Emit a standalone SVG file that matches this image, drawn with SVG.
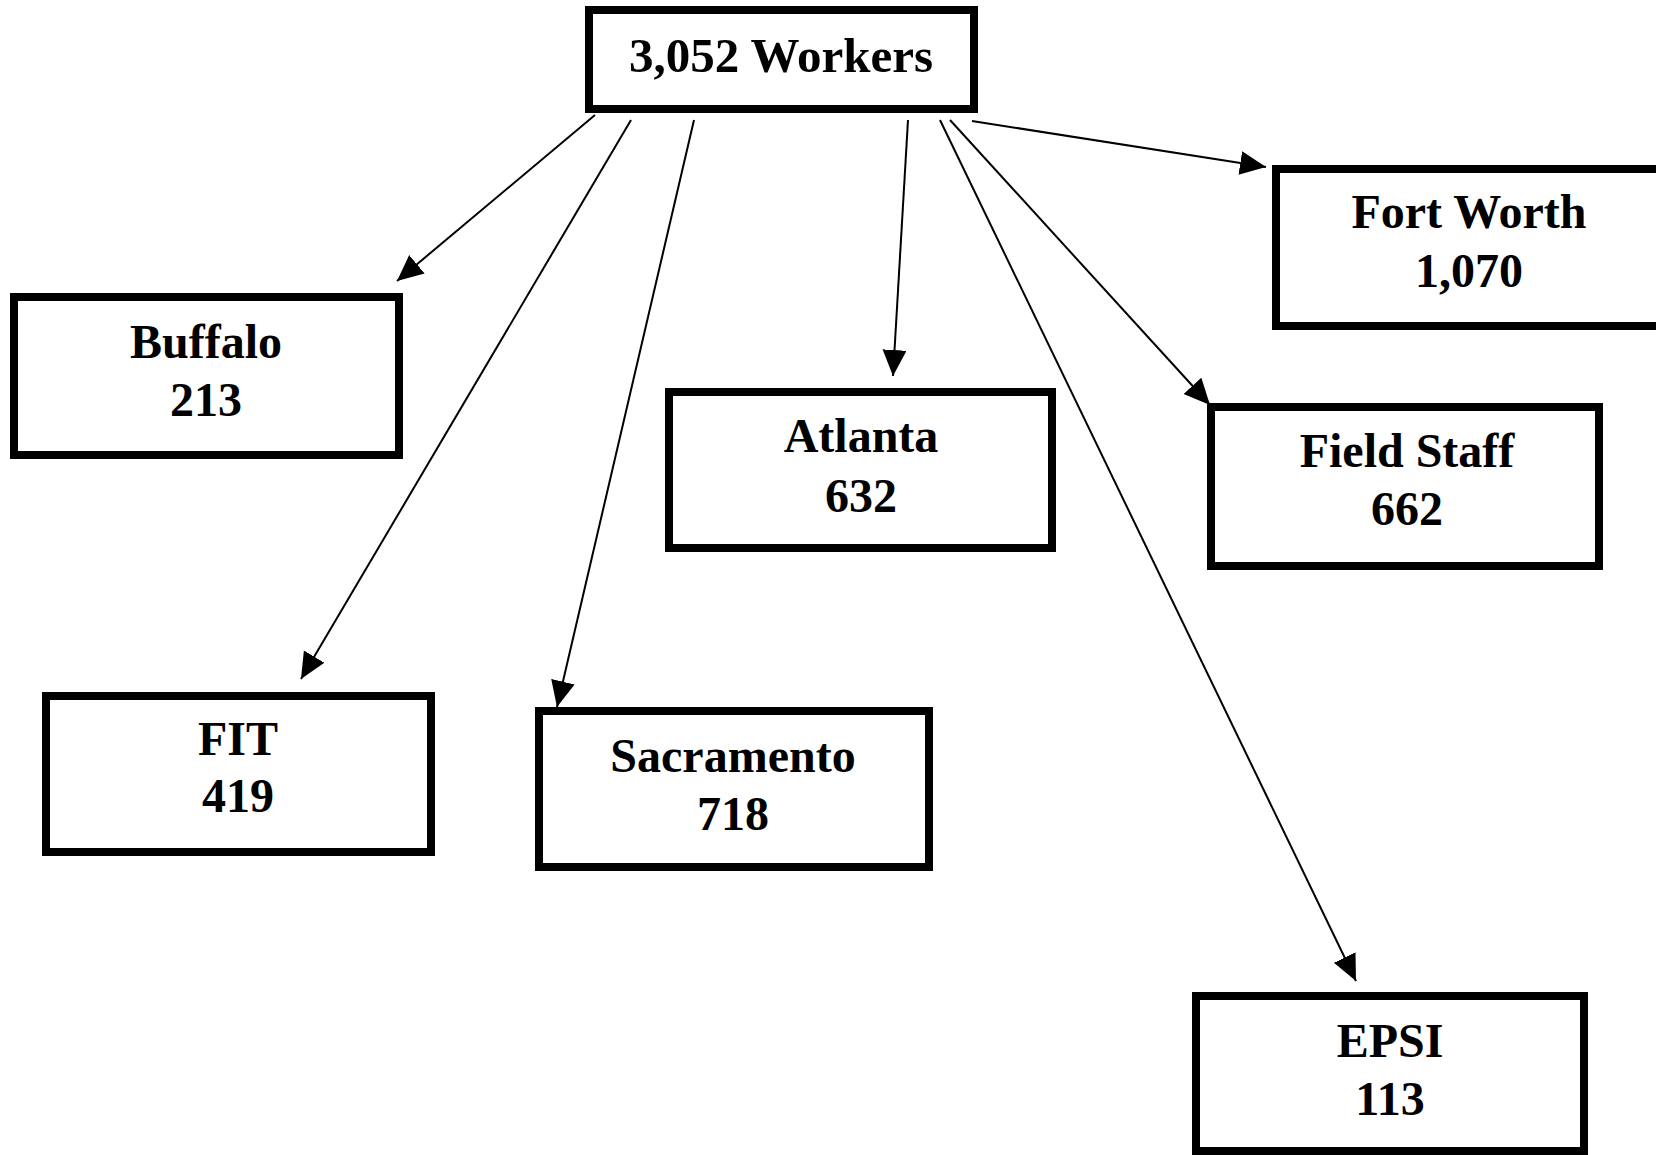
<svg xmlns="http://www.w3.org/2000/svg" width="1656" height="1155" viewBox="0 0 1656 1155">
<style>
.box{fill:#fff;stroke:#000;stroke-width:8}
.t{font-family:"Liberation Serif","Times New Roman",serif;font-weight:bold;font-size:48px;fill:#000;text-anchor:middle}
.c{stroke:#000;stroke-width:2;fill:none;marker-end:url(#ah)}
</style>
<defs>
<marker id="ah" markerUnits="userSpaceOnUse" markerWidth="28" markerHeight="26" refX="26" refY="12" orient="auto" viewBox="0 0 28 26">
<path d="M0,0 L26,12 L0,24 z" fill="#000"/>
</marker>
</defs>
<rect width="1656" height="1155" fill="#fff"/>
<g id="connectors">
<line class="c" x1="595" y1="115" x2="397" y2="281"/>
<line class="c" x1="631" y1="120" x2="301" y2="679"/>
<line class="c" x1="694" y1="120" x2="557" y2="707"/>
<line class="c" x1="908" y1="120" x2="893" y2="376"/>
<line class="c" x1="940" y1="120" x2="1356" y2="981"/>
<line class="c" x1="950" y1="120" x2="1210" y2="405"/>
<line class="c" x1="972" y1="121" x2="1266" y2="167"/>
</g>
<g id="root">
<rect class="box" x="589" y="10" width="385" height="99"/>
<text class="t" x="781" y="72" style="font-size:49px">3,052 Workers</text>
</g>
<g id="fortworth">
<rect class="box" x="1276" y="169" width="400" height="157"/>
<text class="t" x="1469" y="228">Fort Worth</text>
<text class="t" x="1469" y="287">1,070</text>
</g>
<g id="buffalo">
<rect class="box" x="14" y="297" width="385" height="158"/>
<text class="t" x="206" y="358">Buffalo</text>
<text class="t" x="206" y="416">213</text>
</g>
<g id="atlanta">
<rect class="box" x="669" y="392" width="383" height="156"/>
<text class="t" x="861" y="452">Atlanta</text>
<text class="t" x="861" y="512">632</text>
</g>
<g id="fieldstaff">
<rect class="box" x="1211" y="407" width="388" height="159"/>
<text class="t" x="1407" y="467">Field Staff</text>
<text class="t" x="1407" y="525">662</text>
</g>
<g id="fit">
<rect class="box" x="46" y="696" width="385" height="156"/>
<text class="t" x="238" y="755">FIT</text>
<text class="t" x="238" y="812">419</text>
</g>
<g id="sacramento">
<rect class="box" x="539" y="711" width="390" height="156"/>
<text class="t" x="733" y="772">Sacramento</text>
<text class="t" x="733" y="830">718</text>
</g>
<g id="epsi">
<rect class="box" x="1196" y="996" width="388" height="155"/>
<text class="t" x="1390" y="1057">EPSI</text>
<text class="t" x="1390" y="1115">113</text>
</g>
</svg>
